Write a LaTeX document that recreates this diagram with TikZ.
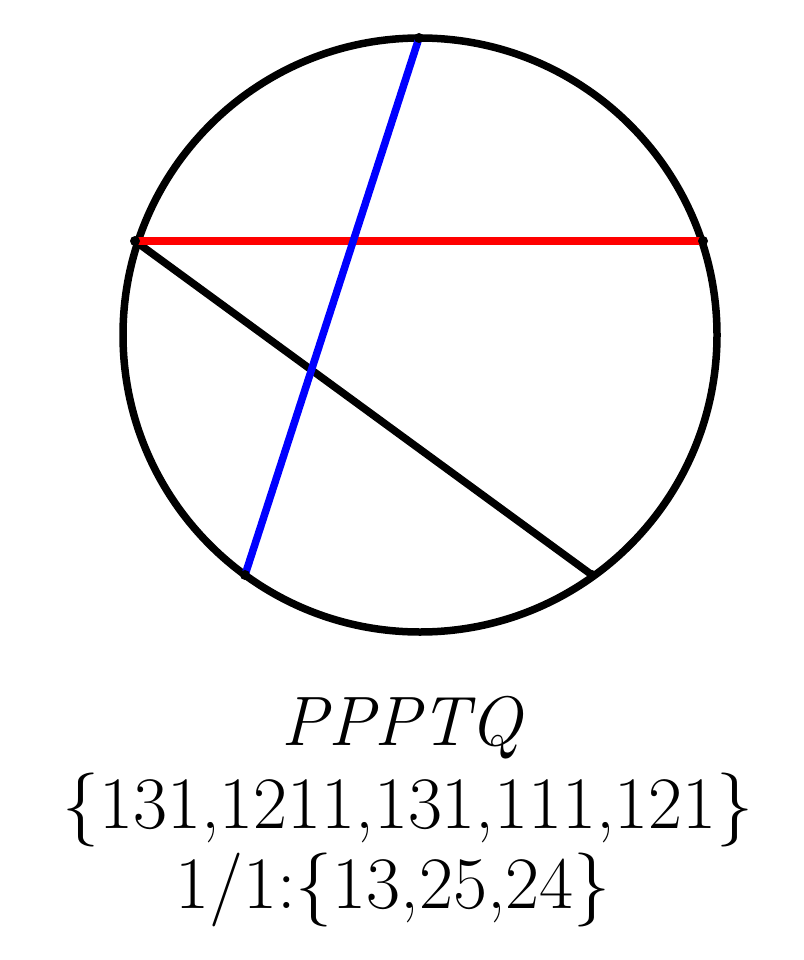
\documentclass[tikz,border=0pt]{standalone}
\begin{document}
\begin{tikzpicture}[x=1pt,y=-1pt,
  edge/.style={line width=7.5pt},
  pt/.style={circle,fill=black,inner sep=0pt,minimum size=10pt},
  lbl/.style={inner sep=0pt,anchor=base,font=\fontsize{74}{86}\selectfont}]
\useasboundingbox (0,0) rectangle (803,960);
\coordinate (O) at (420,335);
\coordinate (T) at (419,38);
\coordinate (L) at (135,241);
\coordinate (R) at (703,241);
\coordinate (BL) at (245,575);
\coordinate (BR) at (592,575);
\draw[edge] (O) circle[radius=297];
\draw[edge,black] (L) -- (BR);
\draw[edge,red] (L) -- (R);
\draw[edge,blue] (T) -- (BL);
\foreach \p in {T,L,R,BL,BR} \node[pt] (d\p) at (\p) {};
\node[lbl,font=\fontsize{70}{84}\selectfont] (t1) at (402,745) {\itshape PPPTQ};
\node[lbl] (t2) at (408,828) {\{131,1211,131,111,121\}};
\node[lbl] (t3) at (393,908) {1/1:\{13,25,24\}};
\end{tikzpicture}
\end{document}
